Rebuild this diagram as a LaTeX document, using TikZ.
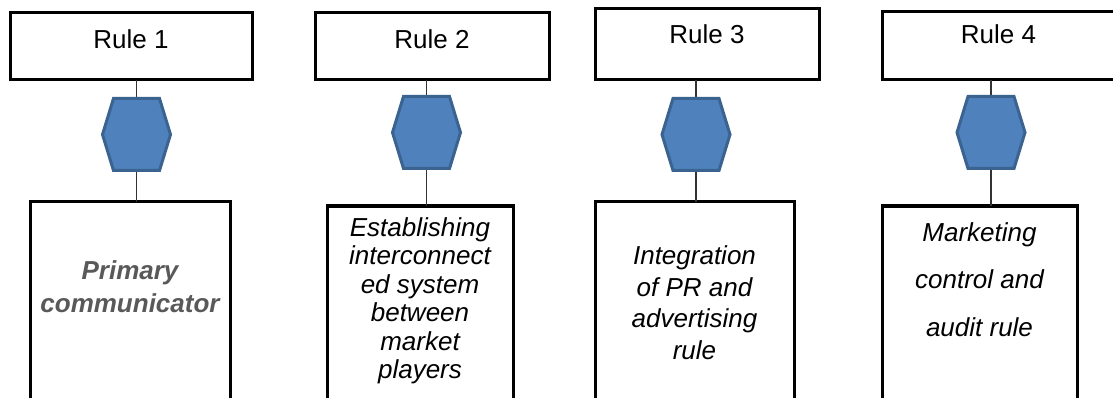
\documentclass[tikz,border=0pt]{standalone}
\usepackage{fontspec}
\setmainfont{Liberation Sans}
\definecolor{hexfill}{HTML}{4F81BD}
\definecolor{hexline}{HTML}{3A6390}
\definecolor{graytext}{HTML}{595959}
\definecolor{connline}{HTML}{333333}
\begin{document}
\begin{tikzpicture}[x=1pt,y=-1pt,
  rulebox/.style={draw=black, line width=3pt, inner xsep=0pt, inner ysep=0pt, outer sep=0pt,
    anchor=north west, font=\fontsize{26}{30}\selectfont},
  lowbox/.style={draw=black, line width=3pt, inner sep=0pt, outer sep=0pt,
    anchor=north west, minimum height=260pt},
  hexnode/.style={inner sep=0pt, outer sep=0pt, minimum width=68pt, minimum height=72pt},
  hexshape/.style={fill=hexfill, draw=hexline, line width=3pt, line join=miter},
  conn/.style={draw=connline, line width=1.5pt},
  desc/.style={align=center, inner sep=0pt, font=\itshape\fontsize{26}{#1}\selectfont},
  desc/.default=30
]
\useasboundingbox (0,0) rectangle (1113,398);
\clip (0,0) rectangle (1113,398);
\fill[white] (0,0) rectangle (1113,398);

% top rule boxes
\node[rulebox, minimum width=242pt, text height=36pt, text depth=31pt] (r1) at (10,13) {Rule 1};
\node[rulebox, minimum width=234pt, text height=36pt, text depth=31pt] (r2) at (315,13) {Rule 2};
\node[rulebox, minimum width=224pt, text height=35pt, text depth=36pt] (r3) at (595,9) {Rule 3};
\node[rulebox, minimum width=233pt, text height=32pt, text depth=36pt] (r4) at (882,12) {Rule 4};

% lower boxes
\node[lowbox, minimum width=200pt] (b1) at (30,202) {};
\node[lowbox, minimum width=186pt] (b2) at (327,206) {};
\node[lowbox, minimum width=199pt] (b3) at (595,202) {};
\node[lowbox, minimum width=195pt] (b4) at (882,206) {};

% hexagon anchors
\node[hexnode] (h1) at (136.5,134.5) {};
\node[hexnode] (h2) at (426.5,132.5) {};
\node[hexnode] (h3) at (696,134.5) {};
\node[hexnode] (h4) at (991,132.5) {};

% connectors
\foreach \i in {1,2,3,4} {
  \draw[conn] (h\i.north) -- (h\i.north |- r\i.south);
  \draw[conn] (h\i.south) -- (h\i.south |- b\i.north);
}

% hexagons
\foreach \h in {h1,h2,h3,h4} {
  \draw[hexshape] (\h.west) -- ([xshift=11pt]\h.north west) -- ([xshift=-11pt]\h.north east)
    -- (\h.east) -- ([xshift=-11pt]\h.south east) -- ([xshift=11pt]\h.south west) -- cycle;
}

% descriptions
\node[align=center, inner sep=0pt, text=graytext, font=\bfseries\itshape\fontsize{26}{33}\selectfont] (t1) at (130,286.5) {Primary\\communicator};
\node[desc=28.5] (t2) at (420,301) {Establishing\\interconnect\\ed system\\between\\market\\players};
\node[desc=31.5] (t3) at (694.5,302.5) {Integration\\of PR and\\advertising\\rule};
\node[desc=47.5] (t4) at (979.5,279.5) {Marketing\\control and\\audit rule};
\end{tikzpicture}
\end{document}
